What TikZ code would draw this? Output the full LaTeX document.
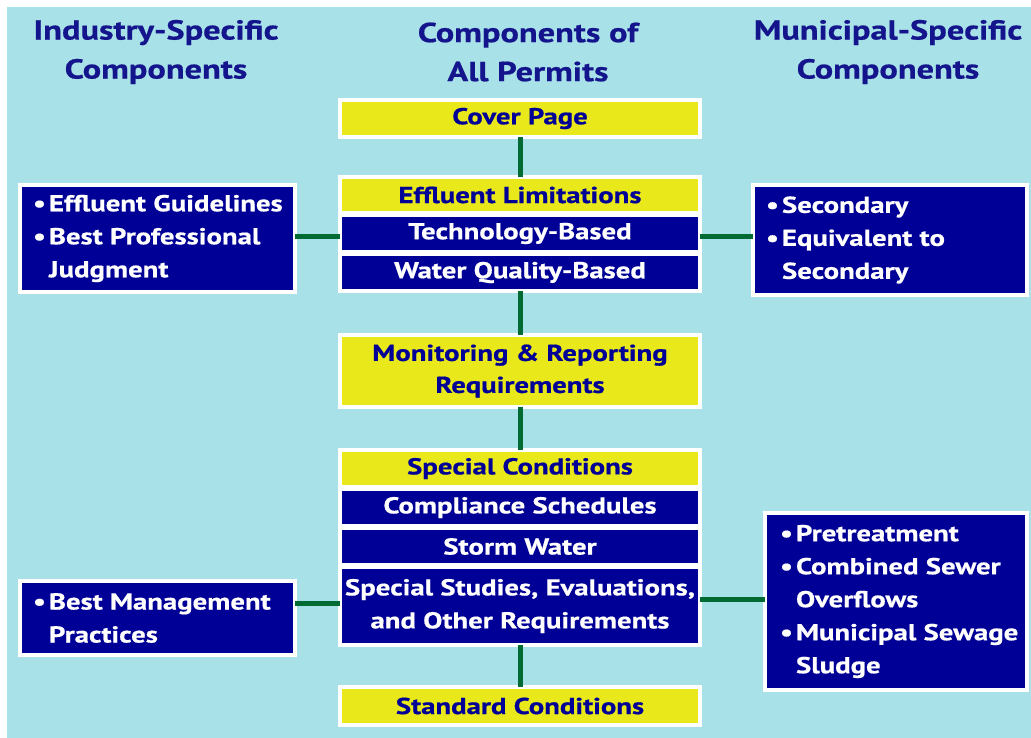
\documentclass[tikz,border=0pt]{standalone}
\usepackage{fontspec}
\setmainfont{PT Sans}[FakeStretch=1.25, BoldFeatures={FakeBold=0.6}]
\definecolor{bgblue}{HTML}{A8E1E7}
\definecolor{navy}{HTML}{000096}
\definecolor{ylw}{HTML}{E8E81A}
\definecolor{grn}{HTML}{006A33}
\definecolor{headc}{HTML}{14148C}
\newcommand\bulx[1][10pt]{\hspace*{#1}\makebox[16pt][l]{•}}
\newcommand\indx[1][10pt]{\hspace*{\dimexpr#1+16pt\relax}}
\begin{document}
\begin{tikzpicture}[x=1pt,y=-1pt,
  every node/.style={font=\bfseries\fontsize{23}{33}\selectfont, inner sep=0pt},
  hbox/.style={draw=white, line width=4pt, fill=ylw, text=navy, minimum width=360pt, align=center},
  nbox/.style={draw=white, line width=4pt, fill=navy, text=white, minimum width=360pt, align=center},
  lbox/.style={draw=white, line width=4pt, fill=navy, text=white, align=flush left, inner xsep=3pt},
  head/.style={text=headc, align=center, font=\bfseries\fontsize{27.5}{39}\selectfont},
  conn/.style={draw=grn, line width=5pt, shorten <=-2pt, shorten >=-2pt}]
\useasboundingbox (0,0) rectangle (1031,738);
\fill[white] (0,0) rectangle (1031,738);
\fill[bgblue] (7,7) rectangle (1031,738);
% headings
\node[head] (h1) at (156,52) {Industry-Specific\\Components};
\node[head] (h2) at (528,52) {Components of\\All Permits};
\node[head] (h3) at (888,52) {Municipal-Specific\\Components};
% central column
\node[hbox, minimum height=37pt] (cover) at (520,118.5) {Cover Page};
\node[hbox, minimum height=36pt] (efflim) at (520,195) {Effluent Limitations};
\node[nbox, minimum height=37pt] (tech) at (520,233.5) {Technology-Based};
\node[nbox, minimum height=37pt] (wq) at (520,272.5) {Water Quality-Based};
\node[hbox, minimum height=72pt, font=\bfseries\fontsize{23}{32}\selectfont] (mon) at (520,371) {Monitoring \& Reporting\\Requirements};
\node[hbox, minimum height=37pt] (spec) at (520,468.5) {Special Conditions};
\node[nbox, minimum height=37pt] (comp) at (520,507.5) {Compliance Schedules};
\node[nbox, minimum height=37pt] (storm) at (520,546.5) {Storm Water};
\node[nbox, minimum height=78pt] (studies) at (520,606) {Special Studies, Evaluations,\\and Other Requirements};
\node[hbox, minimum height=38pt] (std) at (520,706) {Standard Conditions};
% side boxes
\node[lbox, text width=269pt, minimum height=107pt] (l1) at (157.5,238.5) {\bulx Effluent Guidelines\\\bulx Best Professional\\\indx Judgment};
\node[lbox, text width=269pt, minimum height=74pt] (l2) at (157.5,618) {\bulx Best Management\\\indx Practices};
\node[lbox, text width=268pt, minimum height=110pt] (r1) at (890,240) {\bulx Secondary\\\bulx Equivalent to\\\indx Secondary};
\node[lbox, text width=256pt, minimum height=177pt] (r2) at (896,601.5) {\bulx[12pt]Pretreatment\\\bulx[12pt]Combined Sewer\\\indx[12pt]Overflows\\\bulx[12pt]Municipal Sewage\\\indx[12pt]Sludge};
% connectors
\draw[conn] (cover.south) -- (efflim.north);
\draw[conn] (wq.south) -- (mon.north);
\draw[conn] (mon.south) -- (spec.north);
\draw[conn] (studies.south) -- (std.north);
\draw[conn] ([yshift=1.5pt]l1.east) -- ([yshift=1.5pt]l1.east -| tech.west);
\draw[conn] ([yshift=-3.5pt]tech.east) -- ([yshift=-3.5pt]tech.east -| r1.west);
\draw[conn] ([yshift=3pt]studies.west) -- ([yshift=3pt]studies.west -| l2.east);
\draw[conn] ([yshift=7pt]studies.east) -- ([yshift=7pt]studies.east -| r2.west);
\end{tikzpicture}
\end{document}
